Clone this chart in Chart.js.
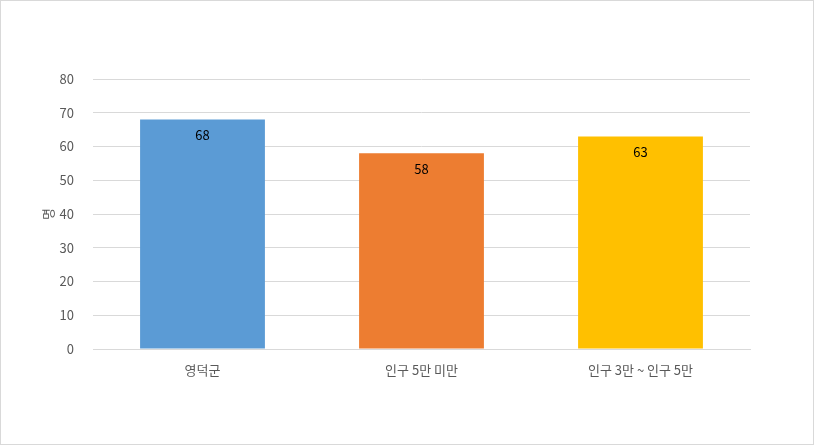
<!DOCTYPE html>
<html>
<head>
<meta charset="utf-8">
<script src="https://cdn.jsdelivr.net/npm/chart.js@4"></script>
<style>
  html, body { margin: 0; padding: 0; background: #fff; }
  #wrap { position: relative; width: 814px; height: 445px; }
  #frame { position: absolute; left: 0; top: 0; width: 814px; height: 445px; box-sizing: border-box; border: 1px solid #D9D9D9; pointer-events: none; }
  canvas { position: absolute; left: 0; top: 0; }
</style>
</head>
<body>
<div id="wrap">
  <canvas id="c" width="814" height="445"></canvas>
  <div id="frame"></div>
</div>
<script>
const categories = ['영덕군', '인구 5만 미만', '인구 3만 ~ 인구 5만'];
const values = [68, 58, 63];
const barColors = ['#5B9BD5', '#ED7D31', '#FFC000'];
const yTicks = [0, 10, 20, 30, 40, 50, 60, 70, 80];
const yTitle = '명';

const FONT = '"Noto Sans CJK KR", "Noto Sans", sans-serif';

const labelPlugin = {
  id: 'valueLabels',
  afterDatasetsDraw(chart) {
    const ctx = chart.ctx;
    const meta = chart.getDatasetMeta(0);
    ctx.save();
    ctx.font = '13px ' + FONT;
    ctx.fillStyle = '#000000';
    ctx.textAlign = 'center';
    ctx.textBaseline = 'middle';
    meta.data.forEach((bar, i) => {
      ctx.fillText(String(values[i]), bar.x, bar.y + 16);
    });
    ctx.restore();
  }
};

new Chart(document.getElementById('c'), {
  type: 'bar',
  data: {
    labels: categories,
    datasets: [{
      data: values,
      backgroundColor: barColors,
      borderWidth: 0,
      barPercentage: 0.57,
      categoryPercentage: 1.0
    }]
  },
  options: {
    responsive: false,
    animation: false,
    devicePixelRatio: 1,
    layout: { padding: { top: 79, right: 64, left: 1, bottom: 0 } },
    plugins: { legend: { display: false }, tooltip: { enabled: false } },
    scales: {
      x: {
        grid: { display: false },
        border: { display: true, color: '#D9D9D9', width: 1 },
        ticks: { color: '#595959', font: { family: FONT, size: 13 }, padding: 5, maxRotation: 0 },
        afterFit(scale) { scale.height = 96; }
      },
      y: {
        min: 0, max: 80,
        afterBuildTicks(scale) { scale.ticks = yTicks.map(v => ({ value: v })); },
        grid: { color: '#D9D9D9', drawTicks: false },
        border: { display: false },
        ticks: { color: '#595959', font: { family: FONT, size: 13 }, padding: 19 },
        title: { display: true, text: yTitle, color: '#595959', font: { family: FONT, size: 13 }, padding: { top: 39, bottom: 0 } },
        afterFit(scale) { scale.width = 92; }
      }
    }
  },
  plugins: [labelPlugin]
});
</script>
</body>
</html>
